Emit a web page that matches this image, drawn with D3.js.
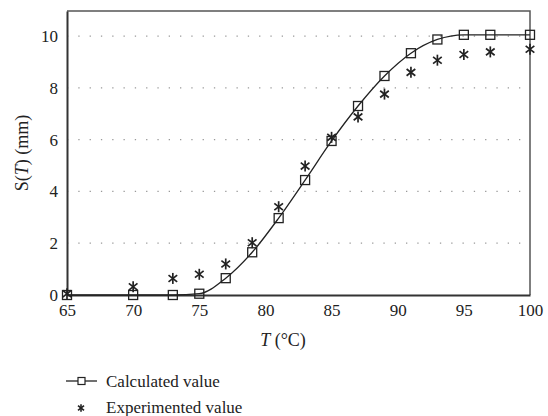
<!DOCTYPE html>
<html>
<head>
<meta charset="utf-8">
<script src="https://cdn.jsdelivr.net/npm/d3@7"></script>
<style>
  body { margin: 0; background: #fff; }
  svg text { font-family: "Liberation Serif", "DejaVu Serif", serif; fill: #222; }
</style>
</head>
<body>
<div id="chart"></div>
<script>
// Temperatures (°C)
const temps = [65, 70, 73, 75, 77, 79, 81, 83, 85, 87, 89, 91, 93, 95, 97, 100];
// Calculated S(T) (mm)
const calculated = [0, 0, 0, 0.05, 0.65, 1.65, 2.97, 4.44, 5.95, 7.3, 8.46, 9.34, 9.87, 10.05, 10.05, 10.05];
// Experimented S(T) (mm)
const experimented = [0.05, 0.32, 0.64, 0.8, 1.2, 2.02, 3.41, 4.98, 6.09, 6.88, 7.76, 8.6, 9.07, 9.29, 9.39, 9.49];

const xTicks = [65, 70, 75, 80, 85, 90, 95, 100];
const yTicks = [0, 2, 4, 6, 8, 10];
const legendLabels = ["Calculated value", "Experimented value"];

const width = 548, height = 416;
const margin = {top: 11, right: 18, bottom: 121, left: 67};

const svg = d3.select("#chart").append("svg")
  .attr("width", width)
  .attr("height", height);

const x = d3.scaleLinear()
  .domain([65, 100])
  .range([margin.left, width - margin.right]);
const y = d3.scaleLinear()
  .domain([0, 10.97])
  .range([height - margin.bottom, margin.top]);

// dotted gridlines
svg.append("g")
  .selectAll("line")
  .data(yTicks.filter(d => d > 0))
  .enter().append("line")
  .attr("x1", x(65)).attr("x2", x(100))
  .attr("y1", d => y(d)).attr("y2", d => y(d))
  .attr("stroke", "#999")
  .attr("stroke-width", 1.2)
  .attr("stroke-dasharray", "1.3 10");

// frame: top and right
svg.append("path")
  .attr("d", `M${x(65)},${y(10.97)}H${x(100)}V${y(0)}`)
  .attr("fill", "none")
  .attr("stroke", "#555")
  .attr("stroke-width", 1.5);

// axes
const xAxis = svg.append("g")
  .attr("transform", `translate(0,${y(0)})`)
  .call(d3.axisBottom(x).tickValues(xTicks).tickSize(0).tickPadding(7));
const yAxis = svg.append("g")
  .attr("transform", `translate(${x(65)},0)`)
  .call(d3.axisLeft(y).tickValues(yTicks).tickSize(0).tickPadding(9));
[xAxis, yAxis].forEach(g => {
  g.select(".domain").attr("stroke", "#333").attr("stroke-width", 2);
  g.selectAll("text").attr("font-size", "17px").attr("fill", "#222")
    .attr("font-family", "Liberation Serif, serif");
});
xAxis.selectAll("text").attr("dy", "0.82em");

// calculated curve
const calcData = temps.map((t, i) => ({t, v: calculated[i]}));
const expData = temps.map((t, i) => ({t, v: experimented[i]}));

svg.append("path")
  .datum(calcData)
  .attr("fill", "none")
  .attr("stroke", "#222")
  .attr("stroke-width", 1.3)
  .attr("d", d3.line().x(d => x(d.t)).y(d => y(d.v)).curve(d3.curveMonotoneX));

// asterisk marker (x with vertical bar)
function star(g, cx, cy, r, sw) {
  const a = [90, 38, 142];
  a.forEach(deg => {
    const rad = deg * Math.PI / 180;
    const dx = r * Math.cos(rad), dy = r * Math.sin(rad);
    g.append("line")
      .attr("x1", cx - dx).attr("y1", cy - dy)
      .attr("x2", cx + dx).attr("y2", cy + dy)
      .attr("stroke", "#222").attr("stroke-width", sw);
  });
}

const expG = svg.append("g");
expData.forEach(d => star(expG, x(d.t), y(d.v), 5.5, 1.7));

// square markers
svg.append("g")
  .selectAll("rect")
  .data(calcData)
  .enter().append("rect")
  .attr("x", d => x(d.t) - 4.5)
  .attr("y", d => y(d.v) - 4.5)
  .attr("width", 9)
  .attr("height", 9)
  .attr("fill", "none")
  .attr("stroke", "#222")
  .attr("stroke-width", 1.3);

// axis titles
const xt = svg.append("text")
  .attr("x", 283)
  .attr("y", 346)
  .attr("text-anchor", "middle")
  .attr("font-size", "18px");
xt.append("tspan").attr("font-style", "italic").text("T");
xt.append("tspan").text(" (°C)");

const yt = svg.append("text")
  .attr("transform", "rotate(-90)")
  .attr("x", -153)
  .attr("y", 28)
  .attr("text-anchor", "middle")
  .attr("font-size", "18px");
yt.append("tspan").text("S(");
yt.append("tspan").attr("font-style", "italic").text("T");
yt.append("tspan").text(") (mm)");

// legend
const legend = svg.append("g").attr("transform", "translate(66,381)");
legend.append("line")
  .attr("x1", 0).attr("x2", 31).attr("y1", 0).attr("y2", 0)
  .attr("stroke", "#222").attr("stroke-width", 1.3);
legend.append("rect")
  .attr("x", 12).attr("y", -3.5).attr("width", 7).attr("height", 7)
  .attr("fill", "#fff").attr("stroke", "#222").attr("stroke-width", 1.2);
star(legend, 15, 27, 3.8, 1.6);
legend.selectAll("text.lab")
  .data(legendLabels)
  .enter().append("text")
  .attr("class", "lab")
  .attr("x", 40)
  .attr("y", (d, i) => i * 26)
  .attr("dy", "0.35em")
  .attr("font-size", "17px")
  .text(d => d);
</script>
</body>
</html>
